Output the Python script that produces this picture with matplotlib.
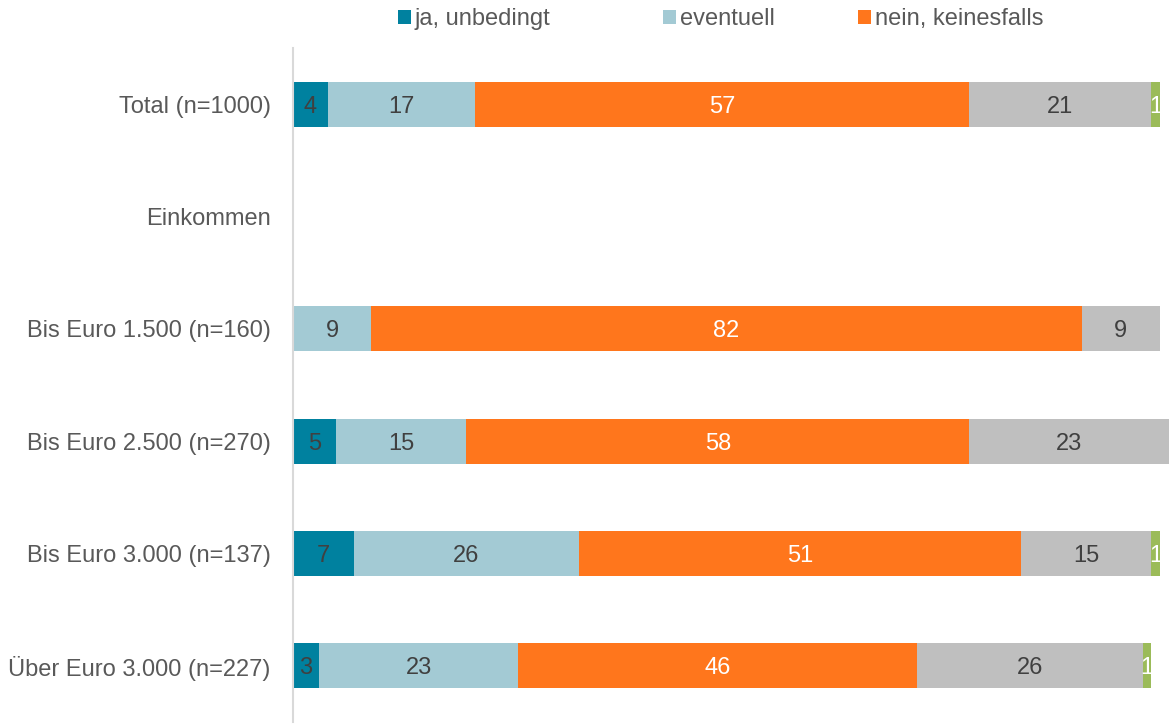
import numpy as np
import matplotlib.pyplot as plt

plt.rcParams['font.family'] = ['Liberation Sans', 'DejaVu Sans']

categories = ['Total (n=1000)', 'Einkommen', 'Bis Euro 1.500 (n=160)',
              'Bis Euro 2.500 (n=270)', 'Bis Euro 3.000 (n=137)',
              'Über Euro 3.000 (n=227)']
series_names = ['ja, unbedingt', 'eventuell', 'nein, keinesfalls',
                'weiß nicht', 'keine Angabe']
ja_unbedingt = [4, 0, 0, 5, 7, 3]
eventuell = [17, 0, 9, 15, 26, 23]
nein_keinesfalls = [57, 0, 82, 58, 51, 46]
weiss_nicht = [21, 0, 9, 23, 15, 26]
keine_angabe = [1, 0, 0, 0, 1, 1]

series = [ja_unbedingt, eventuell, nein_keinesfalls, weiss_nicht, keine_angabe]
colors = ['#00819f', '#a3cad4', '#ff761c', '#bfbfbf', '#9bbb59']
label_colors = ['#404040', '#404040', 'white', '#404040', 'white']

fig = plt.figure(figsize=(11.72, 7.25), dpi=100)
ax = fig.add_axes([293 / 1172, 3 / 725, 1 - 293 / 1172, 674 / 725])

y = np.arange(len(categories))
left = np.zeros(len(categories))
handles = []
for vals, col, lc, name in zip(series, colors, label_colors, series_names):
    vals = np.array(vals, dtype=float)
    bars = ax.barh(y, vals, left=left, height=0.4, color=col, label=name)
    handles.append(bars)
    for yi, l, v in zip(y, left, vals):
        if v > 0:
            ax.text(l + v / 2, yi, f'{int(v)}', ha='center',
                    va='center_baseline', fontsize=17, color=lc)
    left += vals

ax.set_xlim(0, 101.4)
ax.set_ylim(5.5, -0.5)
ax.set_yticks(y)
ax.set_yticklabels(categories, fontsize=17, color='#595959')
ax.tick_params(axis='y', length=0, pad=16)
ax.set_xticks([])
for s in ['top', 'right', 'bottom']:
    ax.spines[s].set_visible(False)
ax.spines['left'].set_color('#d9d9d9')
ax.spines['left'].set_linewidth(1.5)

# legend entries sit in fixed slots, as in the original
legend_x = [398, 663, 858]
for h, name, lx in zip(handles[:3], series_names[:3], legend_x):
    leg = fig.legend([h], [name], loc='center left',
                     bbox_to_anchor=(lx / 1172, 1 - 19 / 725), frameon=False,
                     fontsize=17, handlelength=0.55, handleheight=0.55,
                     handletextpad=0.15, borderpad=0, borderaxespad=0)
    for t in leg.get_texts():
        t.set_color('#595959')

fig.savefig('out.png', dpi=100)
